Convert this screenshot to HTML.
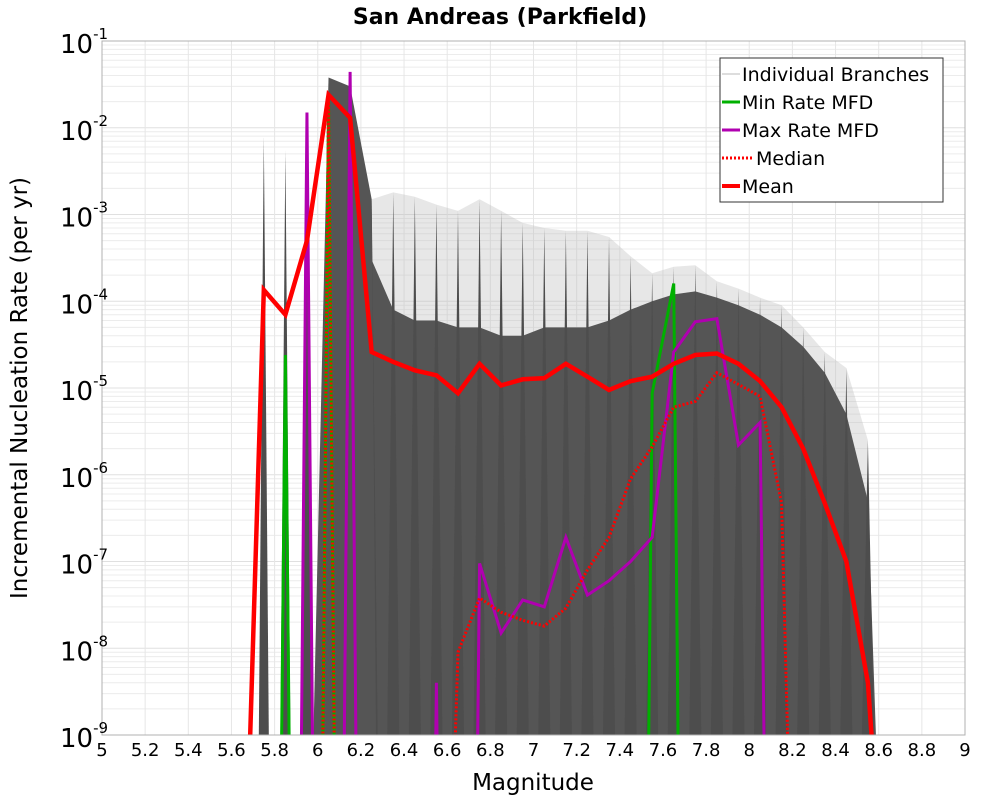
<!DOCTYPE html>
<html><head><meta charset="utf-8">
<style>
html,body{margin:0;background:#fff;overflow:hidden;width:1000px;height:800px;}
svg{display:block;font-family:"DejaVu Sans","Liberation Sans",sans-serif;}
</style></head>
<body>
<svg id="chart" width="1000" height="800" viewBox="0 0 1000 800" xmlns="http://www.w3.org/2000/svg">
<defs><clipPath id="plotclip"><rect x="102" y="41" width="863" height="694"/></clipPath></defs>
<rect x="0" y="0" width="1000" height="800" fill="#fff"/>
<g id="grid"></g>
<g id="branches" clip-path="url(#plotclip)"></g>
<g id="series" clip-path="url(#plotclip)"></g>
<rect x="102" y="41" width="863" height="694" fill="none" stroke="#b0b0b0" stroke-width="1"/>
<g id="axes"></g>
<text x="500" y="24" text-anchor="middle" font-size="22" font-weight="bold">San Andreas (Parkfield)</text>
<text x="533" y="790" text-anchor="middle" font-size="23">Magnitude</text>
<text transform="translate(27,388) rotate(-90)" text-anchor="middle" font-size="23">Incremental Nucleation Rate (per yr)</text>
<g id="legend">
<rect x="720" y="58" width="223" height="144" fill="#fff" stroke="#333" stroke-width="1"/>
<g><line x1="722" y1="74" x2="740" y2="74" stroke="#bbb" stroke-width="1"/><text x="742" y="81" font-size="19">Individual Branches</text></g>
<g><line x1="722" y1="102" x2="740" y2="102" stroke="#00b000" stroke-width="3"/><text x="742" y="109" font-size="19">Min Rate MFD</text></g>
<g><line x1="722" y1="130" x2="740" y2="130" stroke="#b000b0" stroke-width="3"/><text x="742" y="137" font-size="19">Max Rate MFD</text></g>
<g><line x1="722" y1="158" x2="752" y2="158" stroke="#f00" stroke-width="3" stroke-dasharray="2,2"/><text x="756" y="165" font-size="19">Median</text></g>
<g><line x1="722" y1="186" x2="740" y2="186" stroke="#f00" stroke-width="4"/><text x="742" y="193" font-size="19">Mean</text></g>
</g>
</svg>
<script>
const mags = [5.65,5.75,5.85,5.95,6.05,6.15,6.25,6.35,6.45,6.55,6.65,6.75,6.85,6.95,7.05,7.15,7.25,7.35,7.45,7.55,7.65,7.75,7.85,7.95,8.05,8.15,8.25,8.35,8.45,8.55,8.65];
const meanVals = [1e-12,1.35e-4,7e-5,5e-4,2.4e-2,1.3e-2,2.6e-5,2e-5,1.6e-5,1.4e-5,8.7e-6,1.9e-5,1.07e-5,1.26e-5,1.3e-5,1.9e-5,1.35e-5,9.5e-6,1.2e-5,1.35e-5,1.9e-5,2.4e-5,2.5e-5,1.9e-5,1.2e-5,6e-6,2e-6,4.7e-7,1e-7,4e-9,1e-12];
const medianVals = [1e-30,1e-30,1e-30,1e-30,2.2e-2,1e-30,1e-30,1e-30,1e-30,1e-16,9e-9,3.8e-8,2.6e-8,2.1e-8,1.8e-8,2.9e-8,8e-8,1.9e-7,9e-7,2.1e-6,6e-6,7e-6,1.5e-5,1.1e-5,8e-6,4.7e-7,1e-16,1e-30,1e-30,1e-30,1e-30];
const minVals = [1e-30,1e-30,2.4e-5,1e-30,2.2e-2,1e-30,1e-30,1e-30,1e-30,1e-30,1e-30,1e-30,1e-30,1e-30,1e-30,1e-30,1e-30,1e-30,1e-30,8.7e-6,1.6e-4,1e-30,1e-30,1e-30,1e-30,1e-30,1e-30,1e-30,1e-30,1e-30,1e-30];
const maxVals = [1e-30,1e-30,1e-30,1.5e-2,1e-30,4.4e-2,1e-30,1e-30,1e-30,4e-9,1e-30,9.5e-8,1.5e-8,3.6e-8,3e-8,1.9e-7,4.1e-8,6e-8,1e-7,1.9e-7,2.6e-5,5.8e-5,6.3e-5,2.2e-6,4e-6,1e-25,1e-30,1e-30,1e-30,1e-30,1e-30];
const spikeTop = [null,8e-3,5.5e-3,1.5e-2,3.8e-2,3e-2,1.5e-3,1.8e-3,1.6e-3,1.3e-3,1.1e-3,1.5e-3,1.1e-3,8e-4,7e-4,6.5e-4,6.5e-4,5.5e-4,3.3e-4,2.1e-4,2.5e-4,2.6e-4,1.7e-4,1.4e-4,1.1e-4,9e-5,5e-5,2.6e-5,1.7e-5,2.5e-6,null];
const bandTop = [null,null,null,null,2e-3,2e-3,3e-4,8e-5,6e-5,6e-5,5e-5,5e-5,4e-5,4e-5,5e-5,5e-5,5e-5,6e-5,8e-5,1e-4,1.2e-4,1.3e-4,1.1e-4,9e-5,7e-5,5e-5,3e-5,1.5e-5,5e-6,5e-7,null];
const xTicks = [5,5.2,5.4,5.6,5.8,6,6.2,6.4,6.6,6.8,7,7.2,7.4,7.6,7.8,8,8.2,8.4,8.6,8.8,9];
const yExps = [-1,-2,-3,-4,-5,-6,-7,-8,-9];

const NS="http://www.w3.org/2000/svg";
const X0=102,X1=965,Y0=41,Y1=735;
function xs(m){return X0+(m-5)/4*(X1-X0);}
function ys(v){return Y0+(-1-Math.log10(v))/8*(Y1-Y0);}
function mk(tag,attrs,parent){const e=document.createElementNS(NS,tag);for(const k in attrs)e.setAttribute(k,attrs[k]);parent.appendChild(e);return e;}

const grid=document.getElementById('grid');
for(let e=-9;e<-1;e++){for(let k=1;k<10;k++){const y=ys(k*Math.pow(10,e));
 const l=mk('line',{x1:X0,x2:X1,y1:y,y2:y,stroke:k==1?'#e0e0e0':'#ececec','stroke-width':1},grid);
 
 }}
xTicks.forEach(t=>{const x=xs(t);
 const l=mk('line',{x1:x,x2:x,y1:Y0,y2:Y1,stroke:'#e6e6e6','stroke-width':1},grid);
 
 });

const axes=document.getElementById('axes');
xTicks.forEach(t=>{const tx=mk('text',{x:xs(t),y:756,'text-anchor':'middle','font-size':18},axes);
 tx.textContent=String(t);
 
 });
yExps.forEach(e=>{const y=ys(Math.pow(10,e));
 const tx=mk('text',{x:60,y:y+12,'text-anchor':'start','font-size':26},axes);
 
 
 tx.textContent='10';
 const s=mk('tspan',{dy:-14,'font-size':15},tx); s.textContent=String(e);});

const br=document.getElementById('branches');
// light mesh between band and spikes
let mesh=[];
mags.forEach((m,i)=>{if(spikeTop[i]!=null&&i>=6)mesh.push(xs(m)+','+ys(spikeTop[i]));});
let lastB=-1;mags.forEach((m,i)=>{if(bandTop[i]!=null)lastB=i;});
for(let i=lastB;i>=6;i--){mesh.push(xs(mags[i])+','+ys(bandTop[i]));}
const me=mk('polygon',{points:mesh.join(' '),fill:'#bbb','fill-opacity':0.35},br);


// dense band
let pts=[];
const firstB=mags.findIndex((m,i)=>bandTop[i]!=null);
pts.push(xs(mags[firstB])-8+','+Y1);
mags.forEach((m,i)=>{if(bandTop[i]!=null)pts.push(xs(m)+','+ys(bandTop[i]));});
pts.push(xs(mags[lastB])+8+','+Y1);
const band=mk('polygon',{points:pts.join(' '),fill:'#555'},br);


// spikes
mags.forEach((m,i)=>{if(spikeTop[i]==null)return;const x=xs(m);const w=i<6?5:6;
 const p=mk('polygon',{points:(x-w)+','+Y1+' '+x+','+ys(spikeTop[i])+' '+(x+w)+','+Y1,fill:'#4d4d4d'},br);
 
 });
// wide peak around 6.05
const pk=mk('polygon',{points:[xs(5.98)+','+Y1,xs(6.05)+','+ys(spikeTop[4]),xs(6.15)+','+ys(spikeTop[5]),xs(6.25)+','+ys(spikeTop[6]),xs(6.27)+','+Y1].join(' '),fill:'#555'},br);



const sg=document.getElementById('series');
function line(vals,color,w,dash,name){
 const d=mags.map((m,i)=>xs(m)+','+ys(vals[i])).join(' ');
 const pl=mk('polyline',{points:d,fill:'none',stroke:color,'stroke-width':w,'stroke-linejoin':'miter'},sg);
 if(dash)pl.setAttribute('stroke-dasharray',dash);
 
 }
line(minVals,'#00b000',3,null,'min-rate-line');
line(maxVals,'#b000b0',3,null,'max-rate-line');
line(medianVals,'#f00',3,'2,2','median-line');
line(meanVals,'#f00',4.5,null,'mean-line');
</script>
</body></html>
